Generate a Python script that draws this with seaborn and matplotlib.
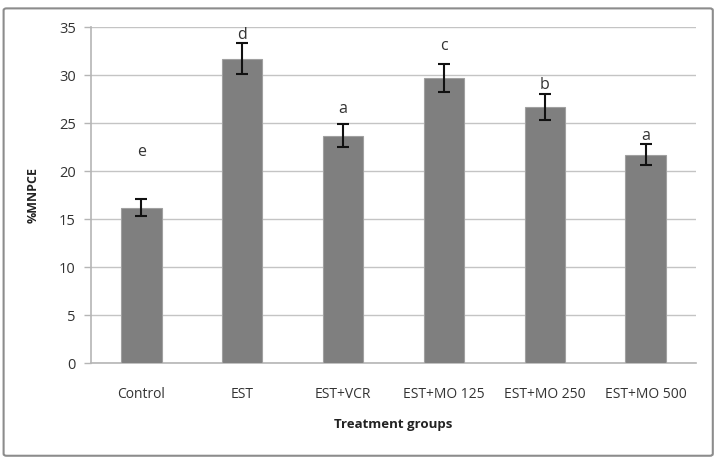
import numpy as np
import pandas as pd
import seaborn as sns
import matplotlib.pyplot as plt
from matplotlib.patches import FancyBboxPatch

# 데이터
groups = ['Control', 'EST', 'EST+VCR', 'EST+MO 125', 'EST+MO 250', 'EST+MO 500']
mnpce = [16.2, 31.7, 23.7, 29.7, 26.7, 21.7]
sem = [0.85, 1.6, 1.2, 1.45, 1.35, 1.1]
letters = ['e', 'd', 'a', 'c', 'b', 'a']
letter_y = [22.0, 34.2, 26.5, 33.0, 29.0, 23.6]

df = pd.DataFrame({'group': groups, 'mnpce': mnpce})

sns.set_style('white')
plt.rcParams['font.family'] = ['Open Sans', 'DejaVu Sans']

fig = plt.figure(figsize=(7.2, 4.66), dpi=100)
ax = fig.add_axes([0.1264, 0.221, 0.8403, 0.721])

# 테두리
fig.patches.append(FancyBboxPatch((0.005, 0.022), 0.985, 0.96, boxstyle='round,pad=0,rounding_size=0.004',
                                  transform=fig.transFigure, fill=False, edgecolor='#8c8c8c', linewidth=1.5))

sns.barplot(data=df, x='group', y='mnpce', color='#7f7f7f', saturation=1, width=0.4,
            edgecolor='#a0a0a0', linewidth=0.8, ax=ax, zorder=3)
ax.errorbar(np.arange(len(groups)), mnpce, yerr=sem, fmt='none', ecolor='#111111',
            elinewidth=1.5, capsize=4, capthick=1.5, zorder=4)

for i, (t, y) in enumerate(zip(letters, letter_y)):
    ax.text(i, y, t, ha='center', va='center', fontsize=11.5, color='#333333')

ax.set_ylim(0, 35)
ax.set_xlim(-0.5, len(groups) - 0.5)
ax.set_yticks(range(0, 36, 5))
ax.yaxis.grid(True, color='#c4c4c4', linewidth=1)
ax.set_axisbelow(True)

for s in ['top', 'right']:
    ax.spines[s].set_visible(False)
for s in ['left', 'bottom']:
    ax.spines[s].set_color('#b5b5b5')
    ax.spines[s].set_linewidth(1.2)

ax.set_xticks(np.arange(-0.5, len(groups)), minor=True)
ax.tick_params(axis='x', which='major', length=0, pad=17, labelsize=10, labelcolor='#333333')
ax.tick_params(axis='x', which='minor', length=5, color='#b5b5b5', width=1)
ax.tick_params(axis='y', length=5, color='#b5b5b5', width=1, pad=6, labelsize=10.5, labelcolor='#333333', left=True)

ax.set_xlabel('Treatment groups', fontsize=9.5, fontweight='bold', color='#222222', labelpad=12)
ax.set_ylabel('%MNPCE', fontsize=9, fontweight='bold', color='#222222', labelpad=14)

plt.savefig('out.png', dpi=100)
plt.close()
